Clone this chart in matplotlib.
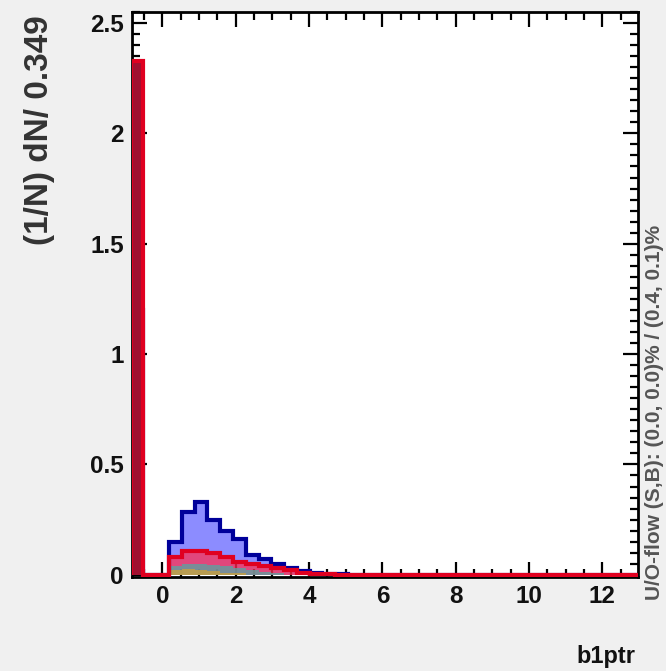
import numpy as np
import matplotlib
matplotlib.use("Agg")
import matplotlib.pyplot as plt
from matplotlib.ticker import MultipleLocator, FuncFormatter

# ---- data ----
bin_start = -0.87
bin_width = 0.349
n_bins = 40
edges = bin_start + bin_width * np.arange(n_bins + 1)

blue_vals = [1.20, 0.0, 0.0, 0.15, 0.285, 0.33, 0.25, 0.20, 0.16, 0.09, 0.07, 0.05,
             0.03, 0.015, 0.008, 0.004, 0.002] + [0.0] * 23
red_vals = [2.33, 0.0, 0.0, 0.08, 0.11, 0.11, 0.10, 0.08, 0.06, 0.05, 0.04, 0.03,
            0.02, 0.01, 0.004, 0.002] + [0.0] * 24
teal_vals = [0.0, 0.0, 0.0, 0.04, 0.05, 0.05, 0.045, 0.04, 0.03, 0.02, 0.012, 0.006] + [0.0] * 28
orange_vals = [0.0, 0.0, 0.0, 0.02, 0.025, 0.02, 0.015, 0.01, 0.006] + [0.0] * 31

y_label = "(1/N) dN/ 0.349"
x_label = "b1ptr"
flow_text = "U/O-flow (S,B): (0.0, 0.0)% / (0.4, 0.1)%"

# ---- figure ----
W, H = 666, 671
fig = plt.figure(figsize=(W / 100, H / 100), dpi=100, facecolor="#f0f0f0")
ax = fig.add_axes([132 / W, 1 - 577 / H, (638 - 132) / W, (577 - 12) / H])
ax.set_facecolor("white")

ax.stairs(blue_vals, edges, fill=True, color="#8c8cff", zorder=1)
ax.stairs(blue_vals, edges, color="#00009a", lw=3, zorder=4)
ax.stairs(red_vals, edges, fill=True, color="#ff3050", alpha=0.75, zorder=2)
ax.stairs(teal_vals, edges, fill=True, color="#5fa0a0", alpha=0.8, zorder=3)
ax.stairs(orange_vals, edges, fill=True, color="#c8a040", alpha=0.8, zorder=3)
ax.stairs(red_vals[:1], edges[:2], fill=True, color="#a01030", zorder=4.5)
ax.stairs(red_vals, edges, color="#e00020", lw=3, zorder=5)

ax.set_xlim(-0.83, 12.97)
ax.set_ylim(-0.01, 2.55)

ax.xaxis.set_major_locator(MultipleLocator(2))
ax.xaxis.set_minor_locator(MultipleLocator(0.5))
ax.yaxis.set_major_locator(MultipleLocator(0.5))
ax.yaxis.set_minor_locator(MultipleLocator(0.05))
ax.yaxis.set_major_formatter(FuncFormatter(lambda v, p: "%g" % v))
ax.xaxis.set_major_formatter(FuncFormatter(lambda v, p: "%g" % v))

ax.tick_params(which="both", direction="in", top=True, right=True, width=1.6, color="black")
ax.tick_params(which="major", length=11, labelsize=17.5, pad=6)
ax.tick_params(which="minor", length=6)
for lab in ax.get_xticklabels() + ax.get_yticklabels():
    lab.set_fontfamily("Liberation Sans")
    lab.set_fontweight("bold")
    lab.set_color("#111111")
for s in ax.spines.values():
    s.set_linewidth(2)
    s.set_color("black")

fig.text(40 / W, 1 - 15 / H, y_label, rotation=90, ha="center", va="top",
         fontsize=24, fontweight="bold", family="Liberation Sans", color="#333333")
fig.text(635 / W, 1 - 657 / H, x_label, ha="right", va="center",
         fontsize=17, fontweight="bold", family="Liberation Sans", color="#111111")
fig.text(655 / W, 1 - 600 / H, flow_text, rotation=90, ha="center", va="bottom",
         fontsize=15, fontweight="bold", family="Liberation Sans", color="#555555")

fig.savefig("out.png", dpi=100, facecolor=fig.get_facecolor())
